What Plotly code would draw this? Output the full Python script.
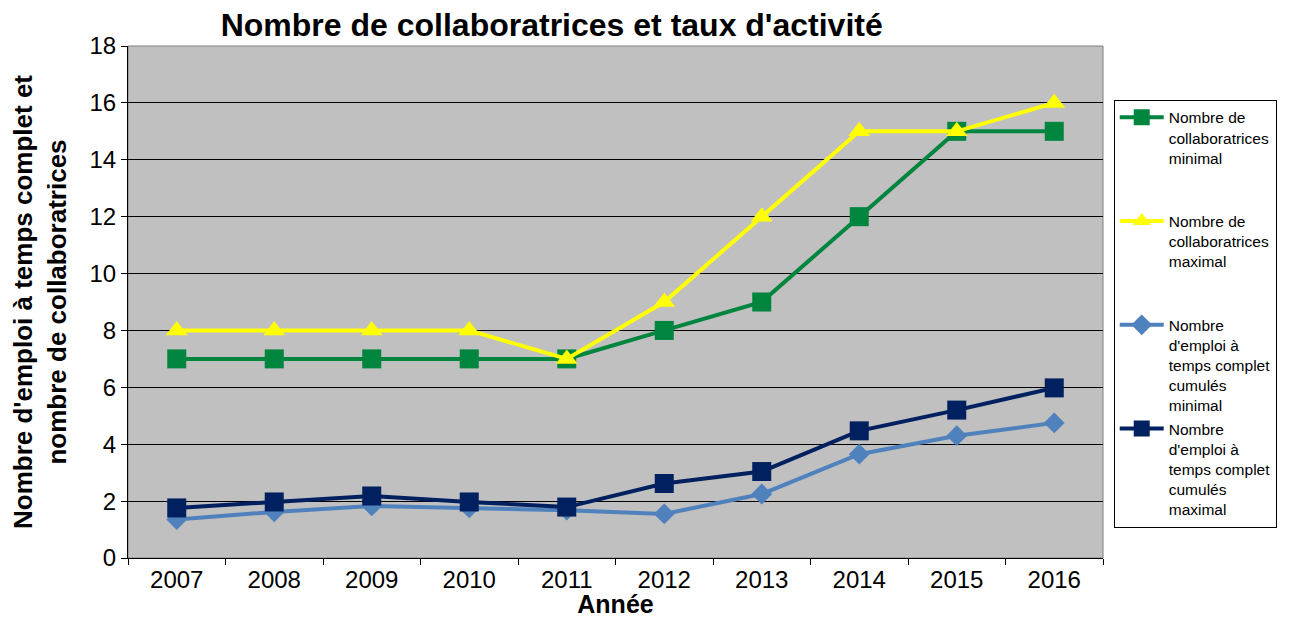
import plotly.graph_objects as go

years = ["2007", "2008", "2009", "2010", "2011", "2012", "2013", "2014", "2015", "2016"]
collab_min = [7, 7, 7, 7, 7, 8, 9, 12, 15, 15]
collab_max = [8, 8, 8, 8, 7, 9, 12, 15, 15, 16]
etp_min = [1.35, 1.62, 1.83, 1.76, 1.68, 1.55, 2.25, 3.65, 4.3, 4.75]
etp_max = [1.76, 1.97, 2.18, 1.97, 1.79, 2.62, 3.04, 4.47, 5.2, 5.98]

names = [
    "Nombre de<br>collaboratrices<br>minimal<br> <br> ",
    "Nombre de<br>collaboratrices<br>maximal<br> <br> ",
    "Nombre<br>d'emploi à<br>temps complet<br>cumulés<br>minimal",
    "Nombre<br>d'emploi à<br>temps complet<br>cumulés<br>maximal",
]

fig = go.Figure()
series = [
    (collab_min, "#00853F", "square", 19),
    (collab_max, "#FFFF00", "triangle-up", 19),
    (etp_min, "#4F81BD", "diamond", 16),
    (etp_max, "#002060", "square", 19),
]
for i, (vals, col, sym, sz) in enumerate(series):
    fig.add_trace(go.Scatter(
        x=years, y=vals, name=names[i], mode="lines+markers",
        line=dict(color=col, width=4),
        marker=dict(symbol=sym, size=sz, color=col),
        legendgroup=f"g{i}",
    ))

fig.add_shape(type="rect", xref="paper", yref="paper", x0=0, x1=1, y0=0, y1=1,
              line=dict(color="#808080", width=1), layer="below")

fig.update_layout(
    width=1281, height=610,
    margin=dict(l=120, r=183, t=38, b=60),
    paper_bgcolor="white", plot_bgcolor="#C0C0C0",
    font=dict(family="Liberation Sans, Arial, sans-serif", color="black"),
    title=dict(text="<b>Nombre de collaboratrices et taux d'activité</b>",
               x=0.4346, xanchor="center", xref="paper", y=0.972, yanchor="middle",
               font=dict(size=32, color="black")),
    xaxis=dict(
        type="category", range=[-0.5, 9.5], showgrid=False, showline=True,
        linecolor="black", linewidth=1, automargin=False,
        ticks="outside", ticklen=6, tickcolor="black", tickson="boundaries",
        tickfont=dict(size=24),
        title=dict(text="<b>Année</b>", font=dict(size=25), standoff=3),
    ),
    yaxis=dict(
        range=[0, 18], dtick=2, showgrid=True, gridcolor="black", gridwidth=1,
        showline=True, linecolor="black", linewidth=1, zeroline=False, automargin=False,
        ticks="outside", ticklen=6, tickcolor="black", tickfont=dict(size=24),
        title=dict(text="<b>Nombre d'emploi à temps complet et<br>nombre de collaboratrices</b>",
                   font=dict(size=26), standoff=18),
    ),
    legend=dict(
        x=1.011, y=0.895, xanchor="left", yanchor="top",
        bordercolor="black", borderwidth=1, bgcolor="white",
        font=dict(size=15.5), valign="top", tracegroupgap=0, itemwidth=44,
    ),
)

fig.write_html("out.html")
